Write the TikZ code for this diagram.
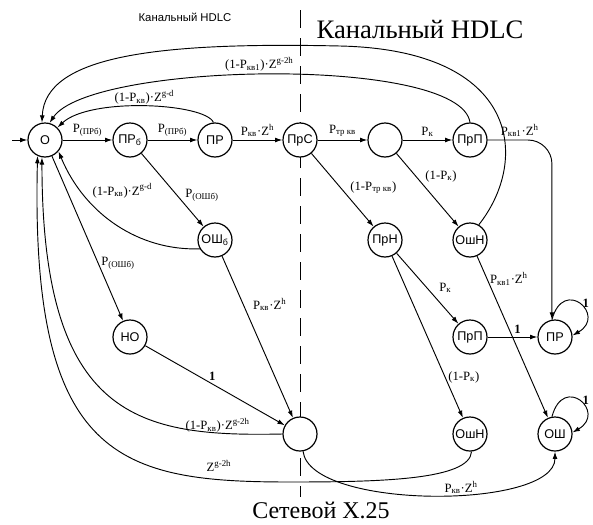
\documentclass[tikz,border=0pt]{standalone}
\usepackage{fontspec}
\setmainfont{Liberation Serif}
\setsansfont{Liberation Sans}
\usepackage{tikz}
\usetikzlibrary{positioning,arrows.meta}

\newcommand{\Psub}[1]{P\textsubscript{#1}}
\newcommand{\Zsup}[1]{Z\textsuperscript{#1}}

\begin{document}
\begin{tikzpicture}[x=0.75pt, y=0.75pt, node distance={63.75pt}, line width=0.7pt, >={Latex[length=5.5pt,width=3.6pt]},
    main/.style = {on grid, circle, draw, line width=0.9pt, fill=white, minimum size=25.5pt, inner sep=0pt, font=\sffamily\fontsize{9.5}{10}\selectfont},
    lbl/.style = {font=\fontsize{9.5}{11}\selectfont, inner sep=2pt}]
    \useasboundingbox (0,0) rectangle (593,-525);
    \draw[dash pattern=on 13.5pt off 7.5pt] (300,-10) -- (300,-497);

    \node (t1) at (185,-17) {\sffamily\fontsize{8.5}{10}\selectfont Канальный HDLC};
    \node (t2) at (420,-30) {\fontsize{20}{22}\selectfont Канальный HDLC};
    \node (t3) at (321,-510) {\fontsize{18}{20}\selectfont Сетевой X.25};

    \node[main] (1) at (45,-140) {О};
    \node[main] (2) [right=of 1] {ПР\textsubscript{б}};
    \node[main] (3) [right=of 2] {ПР};
    \node[main] (4) [right=of 3] {ПрС};
    \node[main] (5) [right=of 4] {};
    \node[main] (6) [right=of 5] {ПрП};
    \node[main] (7) [below=75pt of 3] {ОШ\textsubscript{б}};
    \node[main] (8) [below=75pt of 5] {ПрН};
    \node[main] (9) [below=75pt of 6] {ОшН};
    \node[main] (10) [below left=72.75pt and 63.75pt of 7] {НО};
    \node[main] (11) [below=72.75pt of 9] {ПрП};
    \node[main] (12) [right=of 11] {ПР};
    \node[main] (13) [below=220.5pt of 4] {};
    \node[main] (14) [below=72.75pt of 11] {ОшН};
    \node[main] (15) [right=of 14] {ОШ};
    \coordinate (in) at (12,-140);

    \draw[->] (in) -- (1);
    \path[->] (1) edge node[lbl, above] {\Psub{(ПРб)}} (2);
    \path[->] (2) edge node[lbl, above] {\Psub{(ПРб)}} (3);
    \path[->] (3) edge node[lbl, above] {\Psub{кв}·\Zsup{h}} (4);
    \path[->] (4) edge node[lbl, above] {\Psub{тр кв}} (5);
    \path[->] (5) edge node[lbl, above] {\Psub{к}} (6);

    \path[->] (2) edge node[lbl, pos=.57, right=4pt] {\Psub{(ОШб)}} (7);
    \path[->] (1) edge node[lbl, pos=.65, right] {\Psub{(ОШб)}} (10);
    \path[->] (7) edge node[lbl, pos=.3, right=5pt] {\Psub{кв}·\Zsup{h}} (13);
    \path[->] (10) edge node[lbl, pos=.48, above] {\bfseries 1} (13);
    \path[->] (4) edge node[lbl, pos=.47, right=5pt] {(1-\Psub{тр кв})} (8);
    \path[->] (5) edge node[lbl, pos=.31, right=5pt] {(1-\Psub{к})} (9);
    \path[->] (8) edge node[lbl, pos=.49, right=7pt] {\Psub{к}} (11);
    \path[->] (8) edge node[lbl, pos=.75, right] {(1-\Psub{к})} (14);
    \path[->] (9) edge node[lbl, pos=.14, right] {\Psub{кв1}·\Zsup{h}} (15);
    \path[->] (11) edge node[lbl, pos=.6, above] {\bfseries 1} (12);

    \draw[->] (3.95) .. controls (205,-103) and (90,-97) .. (1.45) node[lbl, pos=.5, above=-1pt] {(1-\Psub{кв})·\Zsup{g-d}};
    \draw[->] (6.north) .. controls (460,-55) and (90,-62) .. (1.75) node[lbl, pos=.52, above] {(1-\Psub{кв1})·\Zsup{g-2h}};
    \draw[->] (9.60) .. controls (530,-160) and (520,-50) .. (340,-46) .. controls (160,-42) and (45,-55) .. (1.100);
    \draw[->] (7.210) .. controls (140,-251) and (85,-215) .. (1.-40) node[lbl, pos=.7, anchor=south west] {(1-\Psub{кв})·\Zsup{g-d}};
    \draw[->] (13.west) .. controls (140,-437) and (42,-420) .. (1.-100) node[lbl, pos=.16, above=-2pt] {(1-\Psub{кв})·\Zsup{g-2h}};
    \draw[->] (14.-85) .. controls (470,-480) and (380,-482) .. (290,-482) .. controls (120,-482) and (30,-460) .. (1.-115) node[lbl, pos=.15, above=4pt] {\Zsup{g-2h}};
    \draw[->] (13.-80) .. controls (310,-510) and (555,-510) .. (15.south) node[lbl, pos=.58, above=-2pt] {\Psub{кв}·\Zsup{h}};
    \draw[->, rounded corners=18pt] (6.east) -| (12.100) node[lbl, pos=.25, above] {\Psub{кв1}·\Zsup{h}};

    \draw[->] (12.100) .. controls +(75:45) and +(30:40) .. (12.5) node[lbl, pos=.5, right] {\bfseries 1};
    \draw[->] (15.100) .. controls +(75:45) and +(30:40) .. (15.5) node[lbl, pos=.5, right] {\bfseries 1};
\end{tikzpicture}
\end{document}
